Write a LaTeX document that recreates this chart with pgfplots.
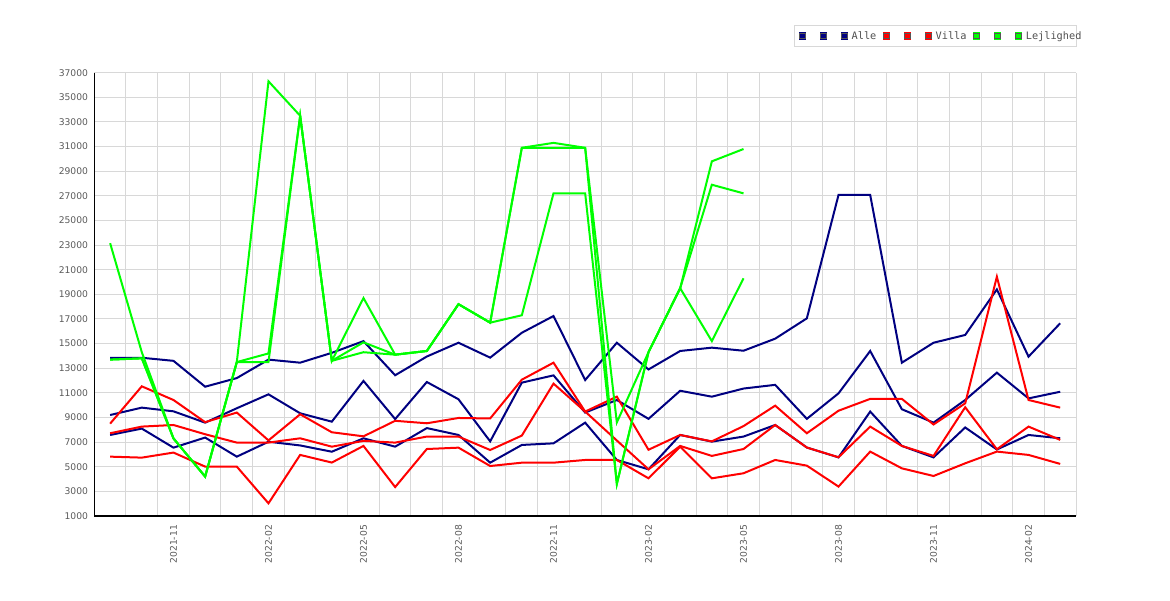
\documentclass[border=0pt]{standalone}
\usepackage{fontspec}
\setmainfont{DejaVu Sans}
\newfontfamily\legmono{DejaVu Sans Mono}
\usepackage{pgfplots}
\usepackage{pgfplotstable}
\pgfplotsset{compat=1.18}
\definecolor{alle}{RGB}{0,0,128}
\definecolor{villa}{RGB}{255,0,0}
\definecolor{lejl}{RGB}{0,255,0}
\definecolor{gridc}{RGB}{216,216,216}
\definecolor{tickc}{RGB}{90,90,90}
\definecolor{legtext}{RGB}{80,80,80}
\definecolor{sqborder}{RGB}{85,85,85}
\newcommand{\emptyent}{\makebox[2.8pt]{}}

\pgfplotstableread{
i at am al
0 13850 9200 7580
1 13850 9800 8100
2 13600 9500 6550
3 11500 8580 7370
4 12200 9750 5820
5 13700 10880 7030
6 13450 9340 6730
7 14250 8660 6220
8 15200 11970 7310
9 12430 8870 6630
10 13950 11880 8140
11 15070 10480 7580
12 13860 7060 5330
13 15880 11830 6770
14 17240 12420 6900
15 12040 9400 8580
16 15070 10420 5550
17 12900 8890 4790
18 14400 11170 7580
19 14670 10690 7040
20 14420 11350 7450
21 15400 11650 8390
22 17050 8890 6560
23 27070 10960 5760
24 27070 14400 9480
25 13450 9670 6690
26 15070 8580 5760
27 15700 10420 8190
28 19400 12640 6400
29 13940 10550 7580
30 16650 11090 7310
}\alletab

\pgfplotstableread{
i vt vm vl
0 8500 7720 5820
1 11530 8260 5740
2 10420 8390 6150
3 8620 7640 5010
4 9400 6960 5010
5 7140 6960 2030
6 9260 7310 5960
7 7800 6630 5340
8 7470 7100 6690
9 8730 6960 3350
10 8530 7450 6440
11 8960 7450 6550
12 8920 6360 5060
13 12070 7530 5330
14 13450 11750 5330
15 9480 9480 5550
16 10690 7130 5550
17 6380 4790 4060
18 7580 6690 6630
19 7060 5880 4060
20 8300 6440 4470
21 9960 8390 5550
22 7720 6560 5090
23 9550 5770 3390
24 10510 8260 6230
25 10510 6690 4870
26 8430 5880 4250
27 10150 9830 5280
28 20430 6420 6230
29 10420 8260 5960
30 9800 7180 5230
}\villatab

\pgfplotstableread{
i ga gb gc
0 23150 13700 13700
1 14300 13800 13800
2 7300 7300 7300
3 4200 4200 4200
4 13500 13500 13500
5 36300 14200 13500
6 33500 33500 33500
7 13600 13600 13600
8 18700 15100 14300
9 14100 14100 14100
10 14400 14400 14400
11 18200 18200 18200
12 16700 16700 16700
13 30900 30900 17300
14 31300 30900 27200
15 30900 30900 27200
16 8600 3600 3600
17 14300 14300 14300
18 19500 19500 19500
19 29800 27900 15200
20 30800 27200 20300
}\lejltab

\begin{document}
\begin{tikzpicture}
\useasboundingbox (-70.725pt,-63pt) rectangle (806.775pt,387pt);
\begin{axis}[
  scale only axis,
  width=736.3pt, height=332.5pt,
  xmin=-0.5, xmax=30.5,
  ymin=1000, ymax=37000,
  xtick={2,5,8,11,14,17,20,23,26,29},
  xticklabels={2021-11,2022-02,2022-05,2022-08,2022-11,2023-02,2023-05,2023-08,2023-11,2024-02},
  minor xtick={-0.5,0.5,...,30.5},
  ytick={1000,3000,...,37000},
  xmajorgrids=false, xminorgrids=true, ymajorgrids=true,
  grid style={draw=gridc, line width=0.75pt},
  minor grid style={draw=gridc, line width=0.75pt},
  major tick length=0pt, minor tick length=0pt,
  axis x line*=bottom, axis y line*=left,
  axis line style={black, line width=0.9pt, -},
  scaled y ticks=false,
  /pgf/number format/1000 sep={},
  /pgf/number format/assume math mode=true,
  tick label style={font=\fontsize{6.9}{8}\selectfont, text=tickc},
  xticklabel style={rotate=90, anchor=east, inner sep=0pt},
  yticklabel style={anchor=east, inner sep=0pt},
  xticklabel shift=6.6pt,
  yticklabel shift=4.5pt,
  every axis plot/.append style={line width=1.5pt, mark=none},
  legend columns=9,
  legend image code/.code={
    \fill[#1] (0.375pt,-2.125pt) rectangle (4.625pt,2.125pt);
    \draw[line width=0.75pt, draw=sqborder] (0.375pt,-2.125pt) rectangle (4.625pt,2.125pt);
  },
  legend style={
    at={(rel axis cs:1.001,1.107)}, anchor=north east,
    draw=gridc, line width=0.75pt,
    font=\legmono\fontsize{7.7}{8}\selectfont, text=legtext,
    inner xsep=2.8pt, inner ysep=4.1pt,
    nodes={inner sep=0pt},
    /tikz/every odd column/.append style={column sep=2.6pt},
    /tikz/every even column/.append style={column sep=4.6pt},
  },
]
\addplot[color=alle] table[x=i,y=at] {\alletab};
\addlegendentry{\emptyent}
\addplot[color=alle] table[x=i,y=am] {\alletab};
\addlegendentry{\emptyent}
\addplot[color=alle] table[x=i,y=al] {\alletab};
\addlegendentry{Alle}
\addplot[color=villa] table[x=i,y=vt] {\villatab};
\addlegendentry{\emptyent}
\addplot[color=villa] table[x=i,y=vm] {\villatab};
\addlegendentry{\emptyent}
\addplot[color=villa] table[x=i,y=vl] {\villatab};
\addlegendentry{Villa}
\addplot[color=lejl] table[x=i,y=ga] {\lejltab};
\addlegendentry{\emptyent}
\addplot[color=lejl] table[x=i,y=gb] {\lejltab};
\addlegendentry{\emptyent}
\addplot[color=lejl] table[x=i,y=gc] {\lejltab};
\addlegendentry{\makebox[\dimexpr\width-6.5pt\relax][l]{Lejlighed}}
\end{axis}
\end{tikzpicture}
\end{document}
